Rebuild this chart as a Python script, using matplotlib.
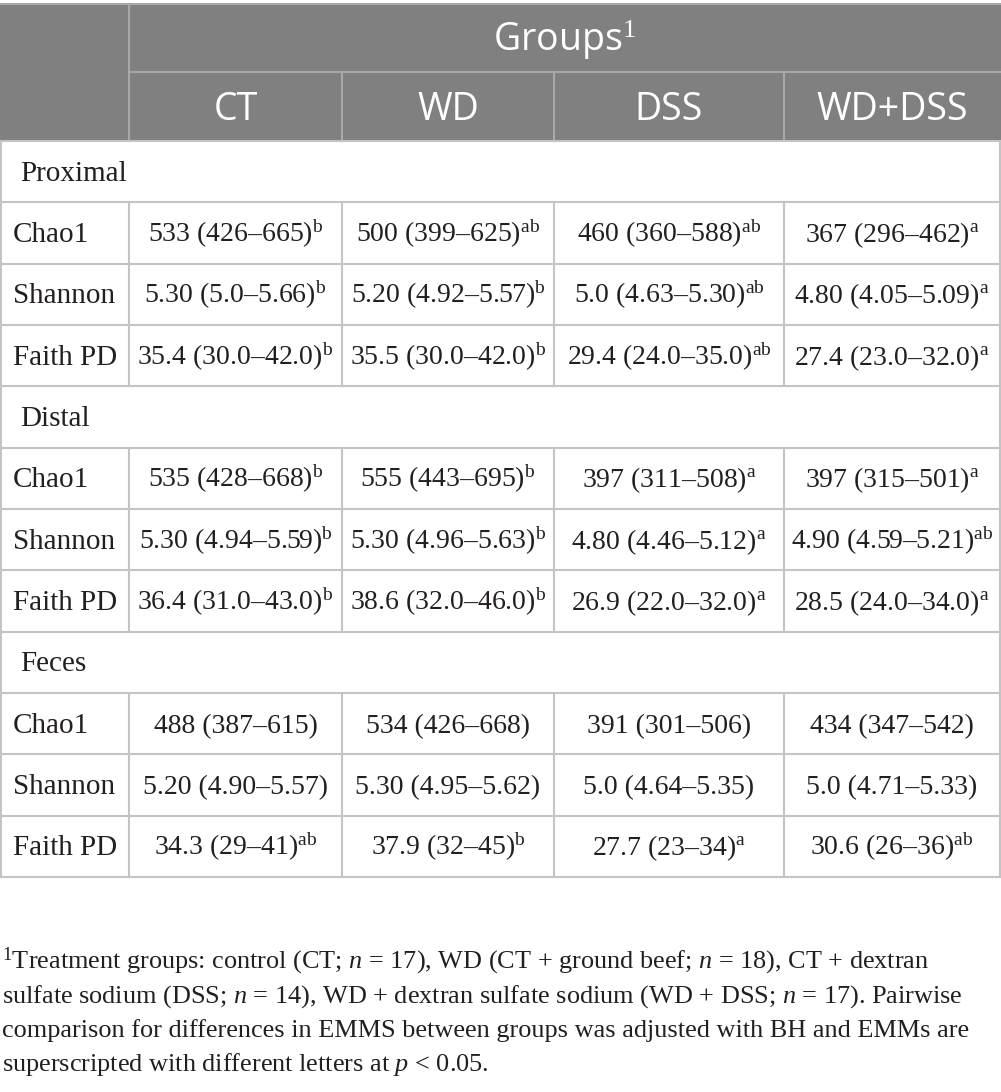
import matplotlib
matplotlib.use("Agg")
import matplotlib.pyplot as plt

plt.rcParams['mathtext.fontset'] = 'custom'
plt.rcParams['mathtext.rm'] = 'Liberation Serif'
plt.rcParams['mathtext.it'] = 'Liberation Serif:italic'

groups = ["CT", "WD", "DSS", "WD+DSS"]
sections = ["Proximal", "Distal", "Feces"]
metrics = ["Chao1", "Shannon", "Faith PD"]

# median (low–high) and letters, one list per section, rows = metrics, cols = groups
proximal_vals = [["533 (426–665)", "500 (399–625)", "460 (360–588)", "367 (296–462)"],
                 ["5.30 (5.0–5.66)", "5.20 (4.92–5.57)", "5.0 (4.63–5.30)", "4.80 (4.05–5.09)"],
                 ["35.4 (30.0–42.0)", "35.5 (30.0–42.0)", "29.4 (24.0–35.0)", "27.4 (23.0–32.0)"]]
proximal_sup = [["b", "ab", "ab", "a"],
                ["b", "b", "ab", "a"],
                ["b", "b", "ab", "a"]]
distal_vals = [["535 (428–668)", "555 (443–695)", "397 (311–508)", "397 (315–501)"],
               ["5.30 (4.94–5.59)", "5.30 (4.96–5.63)", "4.80 (4.46–5.12)", "4.90 (4.59–5.21)"],
               ["36.4 (31.0–43.0)", "38.6 (32.0–46.0)", "26.9 (22.0–32.0)", "28.5 (24.0–34.0)"]]
distal_sup = [["b", "b", "a", "a"],
              ["b", "b", "a", "ab"],
              ["b", "b", "a", "a"]]
feces_vals = [["488 (387–615)", "534 (426–668)", "391 (301–506)", "434 (347–542)"],
              ["5.20 (4.90–5.57)", "5.30 (4.95–5.62)", "5.0 (4.64–5.35)", "5.0 (4.71–5.33)"],
              ["34.3 (29–41)", "37.9 (32–45)", "27.7 (23–34)", "30.6 (26–36)"]]
feces_sup = [["", "", "", ""],
             ["", "", "", ""],
             ["ab", "b", "a", "ab"]]

footnote = [r"$^{1}$Treatment groups: control (CT; $\mathit{n}$ = 17), WD (CT + ground beef; $\mathit{n}$ = 18), CT + dextran",
            r"sulfate sodium (DSS; $\mathit{n}$ = 14), WD + dextran sulfate sodium (WD + DSS; $\mathit{n}$ = 17). Pairwise",
            "comparison for differences in EMMS between groups was adjusted with BH and EMMs are",
            r"superscripted with different letters at $\mathit{p}$ < 0.05."]

all_vals = [proximal_vals, distal_vals, feces_vals]
all_sup = [proximal_sup, distal_sup, feces_sup]

W, H = 1001, 1092
fig = plt.figure(figsize=(W / 100, H / 100), dpi=100)
ax = fig.add_axes([0, 0, 1, 1])
ax.set_xlim(0, W)
ax.set_ylim(H, 0)
ax.axis('off')

col_x = [0, 129, 342, 554, 784, 1000]
head_y = [4, 72, 141]
row_h = 61.33
n_rows = len(sections) * (len(metrics) + 1)
row_y = [head_y[2] + i * row_h for i in range(n_rows + 1)]

hdr_bg = '#808080'
hdr_line = '#a8a8a8'
grid = '#c4c4c4'
ink = '#231f20'
serif = 'Liberation Serif'
sans = 'Open Sans'
fs_body = 20
fs_label = 21
fs_head = 27
base_off = 9  # baseline below row centre, px

# header block
ax.add_patch(plt.Rectangle((0, head_y[0]), W, head_y[2] - head_y[0], color=hdr_bg, lw=0))
ax.plot([0, W], [head_y[0], head_y[0]], color=hdr_line, lw=1.5)
ax.plot([col_x[1], W], [head_y[1], head_y[1]], color=hdr_line, lw=1.5)
ax.plot([col_x[1], col_x[1]], [head_y[0], head_y[2]], color=hdr_line, lw=1.5)
for x in col_x[2:5]:
    ax.plot([x, x], [head_y[1], head_y[2]], color=hdr_line, lw=1.5)

ax.text((col_x[1] + col_x[5]) / 2, (head_y[0] + head_y[1]) / 2 + 13, r"Groups$^{1}$",
        ha='center', va='baseline', color='white', fontsize=fs_head, family=sans)
for i, g in enumerate(groups):
    ax.text((col_x[i + 1] + col_x[i + 2]) / 2, (head_y[1] + head_y[2]) / 2 + 13, g,
            ha='center', va='baseline', color='white', fontsize=fs_head, family=sans)

# body
r = 0
for s, sec in enumerate(sections):
    y0, y1 = row_y[r], row_y[r + 1]
    ax.text(20, (y0 + y1) / 2 + base_off, sec, ha='left', va='baseline',
            fontsize=fs_label, family=serif, color=ink)
    r += 1
    for m, met in enumerate(metrics):
        y0, y1 = row_y[r], row_y[r + 1]
        yb = (y0 + y1) / 2 + base_off
        ax.text(13, yb, met, ha='left', va='baseline', fontsize=fs_label, family=serif, color=ink)
        for g in range(len(groups)):
            sup = all_sup[s][m][g]
            label = all_vals[s][m][g] + (r"$^{\mathrm{%s}}$" % sup if sup else "")
            ax.text((col_x[g + 1] + col_x[g + 2]) / 2, yb, label, ha='center', va='baseline',
                    fontsize=fs_body, family=serif, color=ink)
        for x in col_x[1:5]:
            ax.plot([x, x], [y0, y1], color=grid, lw=1.5)
        r += 1

for y in row_y:
    ax.plot([0, W], [y, y], color=grid, lw=1.5)
ax.plot([1, 1], [head_y[2], row_y[-1]], color=grid, lw=1.5)
ax.plot([col_x[5], col_x[5]], [head_y[2], row_y[-1]], color=grid, lw=1.5)

# footnote
for i, line in enumerate(footnote):
    ax.text(2, 968 + i * 34.3, line, ha='left', va='baseline', fontsize=18.9, family=serif, color=ink)

fig.savefig('out.png', dpi=100)
